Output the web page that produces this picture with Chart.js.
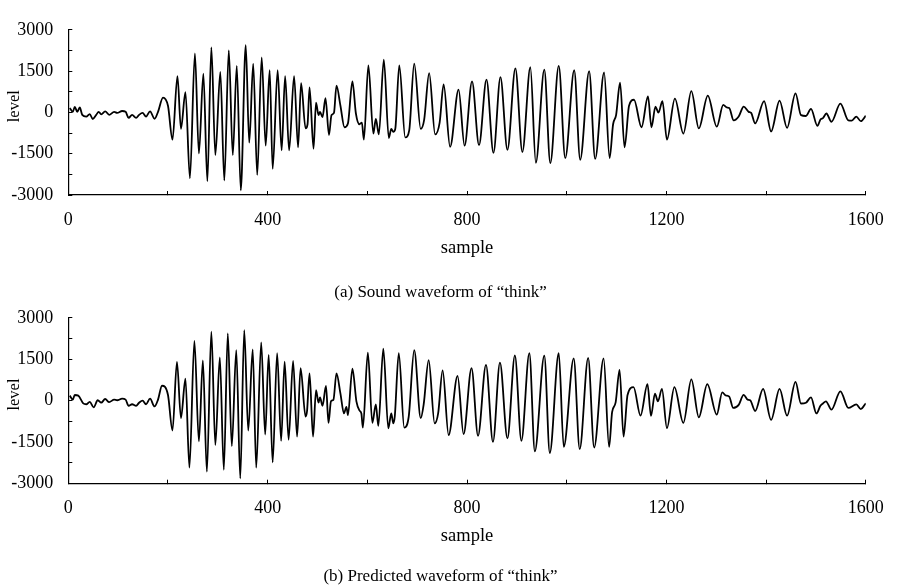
<!DOCTYPE html>
<html><head><meta charset="utf-8">
<script src="https://cdn.jsdelivr.net/npm/chart.js@4/dist/chart.umd.min.js"></script>
<style>
html,body{margin:0;padding:0;background:#fff;width:902px;height:586px;overflow:hidden}
.panel{position:absolute;left:0;width:902px}
canvas{display:block}
</style></head><body>
<div class="panel" style="top:0;height:306px"><canvas id="c1" width="902" height="306"></canvas></div>
<div class="panel" style="top:288px;height:298px"><canvas id="c2" width="902" height="298"></canvas></div>
<script>
// ---- tick labels ----
const xTickLabels = [0, 400, 800, 1200, 1600];
const yTickLabels = [-3000, -1500, 0, 1500, 3000];

// ---- panel (a): sound waveform, read at turning points ----
const soundSamples = [3,9,13,18,23,28,36,43,49,56,61,66,74,82,92,98,108,115,121,128,136,142,149,156,164,173,180,190,200,209,219,226,235,244,254,262,271,279,287,295,305,313,322,330,338,346,356,363,371,379,388,396,404,410,420,428,435,443,453,461,467,476,480,484,492,497,502,505,510,516,523,528,533,538,546,554,561,570,577,584,589,593,602,612,617,623,633,643,648,652,656,664,676,684,694,707,714,724,736,745,753,766,783,795,810,824,839,853,867,881,897,911,927,938,955,967,984,997,1015,1027,1045,1057,1075,1086,1093,1099,1107,1116,1125,1135,1150,1163,1170,1178,1184,1192,1201,1217,1234,1250,1265,1283,1301,1314,1321,1326,1335,1345,1355,1365,1370,1378,1396,1410,1427,1442,1459,1470,1480,1490,1503,1509,1514,1521,1531,1549,1565,1572,1581,1590,1600];
const soundLevels = [160,20,200,20,180,-90,-150,-60,-240,-90,20,-70,40,-90,20,-20,50,20,-200,-90,-200,-90,-20,-150,40,-230,20,540,240,-990,1320,-600,740,-2390,2140,-1490,1410,-2500,2360,-1550,1470,-2470,2250,-1550,1690,-2830,2440,-1100,1770,-2270,2000,-1210,1530,-2050,1530,-1380,1320,-1380,1320,-1270,1060,-580,-430,910,-1320,350,-100,20,-170,520,-820,-100,-20,970,240,-540,-400,1130,-40,-430,-370,-990,1710,-770,-240,-800,1920,-930,-600,-710,-600,1710,-910,-650,1770,-600,-260,1430,-800,-370,1020,-1250,830,-1210,1130,-1190,1190,-1470,1280,-1360,1600,-1440,1640,-1830,1550,-1840,1690,-1660,1530,-1720,1500,-1690,1450,-1660,-430,-100,1080,-1270,240,460,-540,580,-540,210,-10,410,-990,500,-770,770,-580,610,-520,270,180,160,-290,-150,210,20,-20,-400,410,-690,430,-560,690,-100,-130,130,-490,-260,-210,-40,-340,320,-290,-300,-150,-320,-120];

// ---- panel (b): predicted waveform ----
const predSamples = [3,9,13,20,30,36,43,51,59,66,74,82,92,98,108,115,121,128,136,142,149,156,164,173,180,188,200,209,218,226,235,243,253,262,270,278,287,295,304,312,320,328,337,345,353,361,370,377,387,395,402,410,419,427,434,442,451,459,466,476,479,484,491,497,502,505,510,517,522,527,532,538,546,553,558,561,570,578,584,588,591,601,610,617,622,632,642,648,652,655,663,674,683,694,707,713,723,735,742,751,763,781,793,809,822,838,852,866,881,896,909,925,936,955,966,984,994,1014,1026,1043,1055,1074,1085,1091,1098,1106,1114,1122,1134,1148,1162,1169,1177,1183,1191,1201,1216,1234,1250,1265,1282,1301,1312,1319,1326,1334,1345,1355,1363,1368,1378,1394,1410,1427,1442,1459,1470,1480,1490,1501,1509,1514,1520,1531,1549,1565,1581,1590,1600];
const predLevels = [185,40,208,185,-94,-127,-38,-239,18,-71,63,-49,40,18,74,40,-183,-127,-183,-71,7,-127,74,-206,40,543,208,-1076,1403,-630,800,-2417,2161,-1467,1459,-2563,2496,-1601,1570,-2496,2440,-1640,1830,-2810,2550,-1080,1860,-2420,2110,-1220,1660,-2230,1720,-1450,1410,-1410,1440,-1300,1180,-570,-370,990,-1300,380,-70,120,-180,540,-800,-20,40,990,260,-460,-220,-520,1160,-20,-350,-460,-970,1740,-800,-130,-910,1880,-1000,-460,-820,-570,1720,-970,-570,1830,-630,-130,1470,-820,-460,1100,-1240,900,-1210,1180,-1270,1300,-1490,1380,-1360,1640,-1450,1720,-1830,1630,-1890,1720,-1670,1530,-1750,1550,-1690,1530,-1670,-410,-70,1120,-1300,210,490,-540,600,-550,260,-20,430,-990,490,-800,770,-600,600,-500,300,190,150,-260,-150,210,40,20,-370,430,-690,430,-540,680,-100,-70,120,-460,-180,-100,-20,-320,340,-260,-130,-300,-90];

const SERIF = "'Liberation Serif','Times New Roman',serif";

function makePanel(id, xs, ys, caption, g) {
  const pts = xs.map((x, i) => ({x: x, y: ys[i]}));
  const axisGrid = {display: true, drawOnChartArea: false, drawTicks: true, tickLength: -4, color: '#000', lineWidth: 1};
  const axisBorder = {display: true, color: '#000', width: 1.2};
  new Chart(document.getElementById(id), {
    type: 'line',
    data: {datasets: [{data: pts, borderColor: '#000', borderWidth: 1.8, pointRadius: 0, fill: false, cubicInterpolationMode: 'monotone'}]},
    options: {
      responsive: false, animation: false, events: [],
      layout: {padding: {top: g.top, right: 21, left: 0, bottom: 0}},
      plugins: {
        legend: {display: false}, tooltip: {enabled: false},
        title: {display: true, position: 'bottom', text: caption, color: '#000',
          font: {family: SERIF, size: 17, weight: 'normal', lineHeight: 1},
          padding: {top: 0, bottom: g.capPad}}
      },
      scales: {
        x: {type: 'linear', position: 'bottom', min: 0, max: 1600,
          border: axisBorder, grid: axisGrid,
          ticks: {stepSize: 200, autoSkip: false, maxRotation: 0, color: '#000', padding: 18.2,
            font: {family: SERIF, size: 18},
            callback: v => xTickLabels.includes(v) ? String(v) : ''},
          title: {display: true, text: 'sample', color: '#000', font: {family: SERIF, size: 18.5},
            padding: {top: 0, bottom: g.samplePad}},
          afterFit: s => { s.height = g.xh; }
        },
        y: {type: 'linear', position: 'left', min: -3000, max: 3000,
          border: axisBorder, grid: axisGrid,
          ticks: {stepSize: 750, autoSkip: false, color: '#000', padding: 19,
            font: {family: SERIF, size: 18},
            callback: v => yTickLabels.includes(v) ? String(v) : ''},
          title: {display: true, text: '   level', color: '#000', font: {family: SERIF, size: 16.5},
            padding: {top: 5.2, bottom: 0}},
          afterFit: s => { s.width = 68.3; }
        }
      }
    }
  });
}

makePanel('c1', soundSamples, soundLevels, '(a) Sound waveform of \u201cthink\u201d',
  {top: 16, capPad: 4.5, xh: 89.5, samplePad: 25.4});
makePanel('c2', predSamples, predLevels, '(b) Predicted waveform of \u201cthink\u201d',
  {top: 16.7, capPad: 0.5, xh: 84.8, samplePad: 21.4});
</script>
</body></html>
